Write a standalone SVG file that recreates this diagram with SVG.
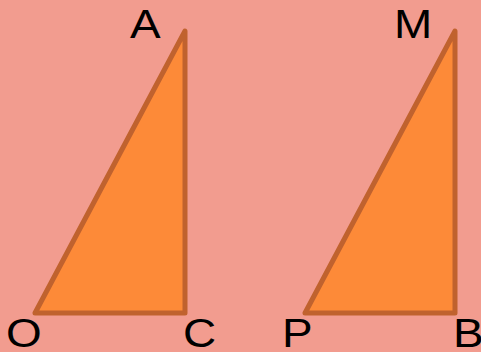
<svg xmlns="http://www.w3.org/2000/svg" width="481" height="352" viewBox="0 0 481 352">
<style>
.tri{fill:#FD8A38;stroke:#C0622E;stroke-width:5;stroke-linejoin:round}
.lbl{font-family:"Liberation Sans",Arial,sans-serif;font-size:41px;fill:#000}
</style>
<rect width="481" height="352" fill="#F29C8F"/>
<g id="triangle-OAC">
<polygon class="tri" points="35,313 185,31 185,313"/>
</g>
<g id="triangle-PMB">
<polygon class="tri" points="305,313 455,31 455,313"/>
</g>
<g id="labels">
<text class="lbl" transform="translate(130 38) scale(1.12 1)">A</text>
<text class="lbl" transform="translate(6 347) scale(1.12 1)">O</text>
<text class="lbl" transform="translate(183 347) scale(1.12 1)">C</text>
<text class="lbl" transform="translate(394 38) scale(1.12 1)">M</text>
<text class="lbl" transform="translate(282 347) scale(1.12 1)">P</text>
<text class="lbl" transform="translate(453 347) scale(1.12 1)">B</text>
</g>
</svg>
